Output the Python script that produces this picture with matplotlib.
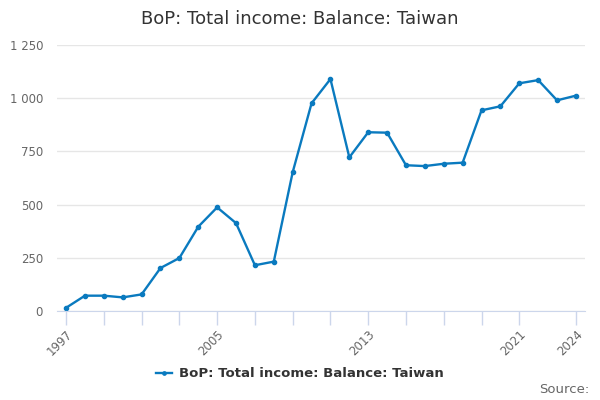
import matplotlib
matplotlib.use("Agg")
import matplotlib.pyplot as plt
from matplotlib.ticker import FuncFormatter

years = list(range(1997, 2025))
values = [15, 72, 72, 64, 78, 202, 249, 396, 487, 413, 215, 232, 652,
          976, 1090, 722, 840, 838, 685, 681, 692, 697, 943, 962,
          1070, 1085, 990, 1012]
series_name = "BoP: Total income: Balance: Taiwan"
tick_years = list(range(1997, 2022, 2)) + [2024]
label_years = [1997, 2005, 2013, 2021, 2024]

fig = plt.figure(figsize=(6, 4), dpi=100)
ax = fig.add_axes([0.095, 0.2225, 0.88, 0.665])

line_color = "#0a7abf"
ax.plot(years, values, color=line_color, lw=1.7, marker="o", markersize=3,
        label=series_name)

ax.set_xlim(1996.52, 2024.48)
ax.set_ylim(0, 1250)
ax.set_yticks([0, 250, 500, 750, 1000, 1250])
ax.yaxis.set_major_formatter(FuncFormatter(lambda v, p: f"{int(v):,}".replace(",", " ")))
ax.set_xticks(tick_years)
ax.set_xticklabels([str(y) if y in label_years else "" for y in tick_years],
                   rotation=45, ha="right", rotation_mode="anchor")

ax.grid(axis="y", color="#e6e6e6", lw=1)
ax.set_axisbelow(True)
for s in ["top", "right", "left"]:
    ax.spines[s].set_visible(False)
ax.spines["bottom"].set_color("#ccd6eb")
ax.tick_params(axis="x", colors="#ccd6eb", length=10, width=1, labelcolor="#666666",
               labelsize=8.5, pad=2)
ax.tick_params(axis="y", length=0, labelcolor="#666666", labelsize=8.5, pad=10)

fig.suptitle("BoP: Total income: Balance: Taiwan", y=0.975, fontsize=13, color="#333333")

fig.legend(loc="lower center", bbox_to_anchor=(0.5, 0.02), frameon=False,
           prop={"size": 9.5, "weight": "bold"}, labelcolor="#333333",
           handlelength=1.2, handletextpad=0.5, markerscale=0.8)
fig.text(0.982, 0.01, "Source:", ha="right", va="bottom", fontsize=9.5, color="#666666")

fig.savefig("out.png", dpi=100)
